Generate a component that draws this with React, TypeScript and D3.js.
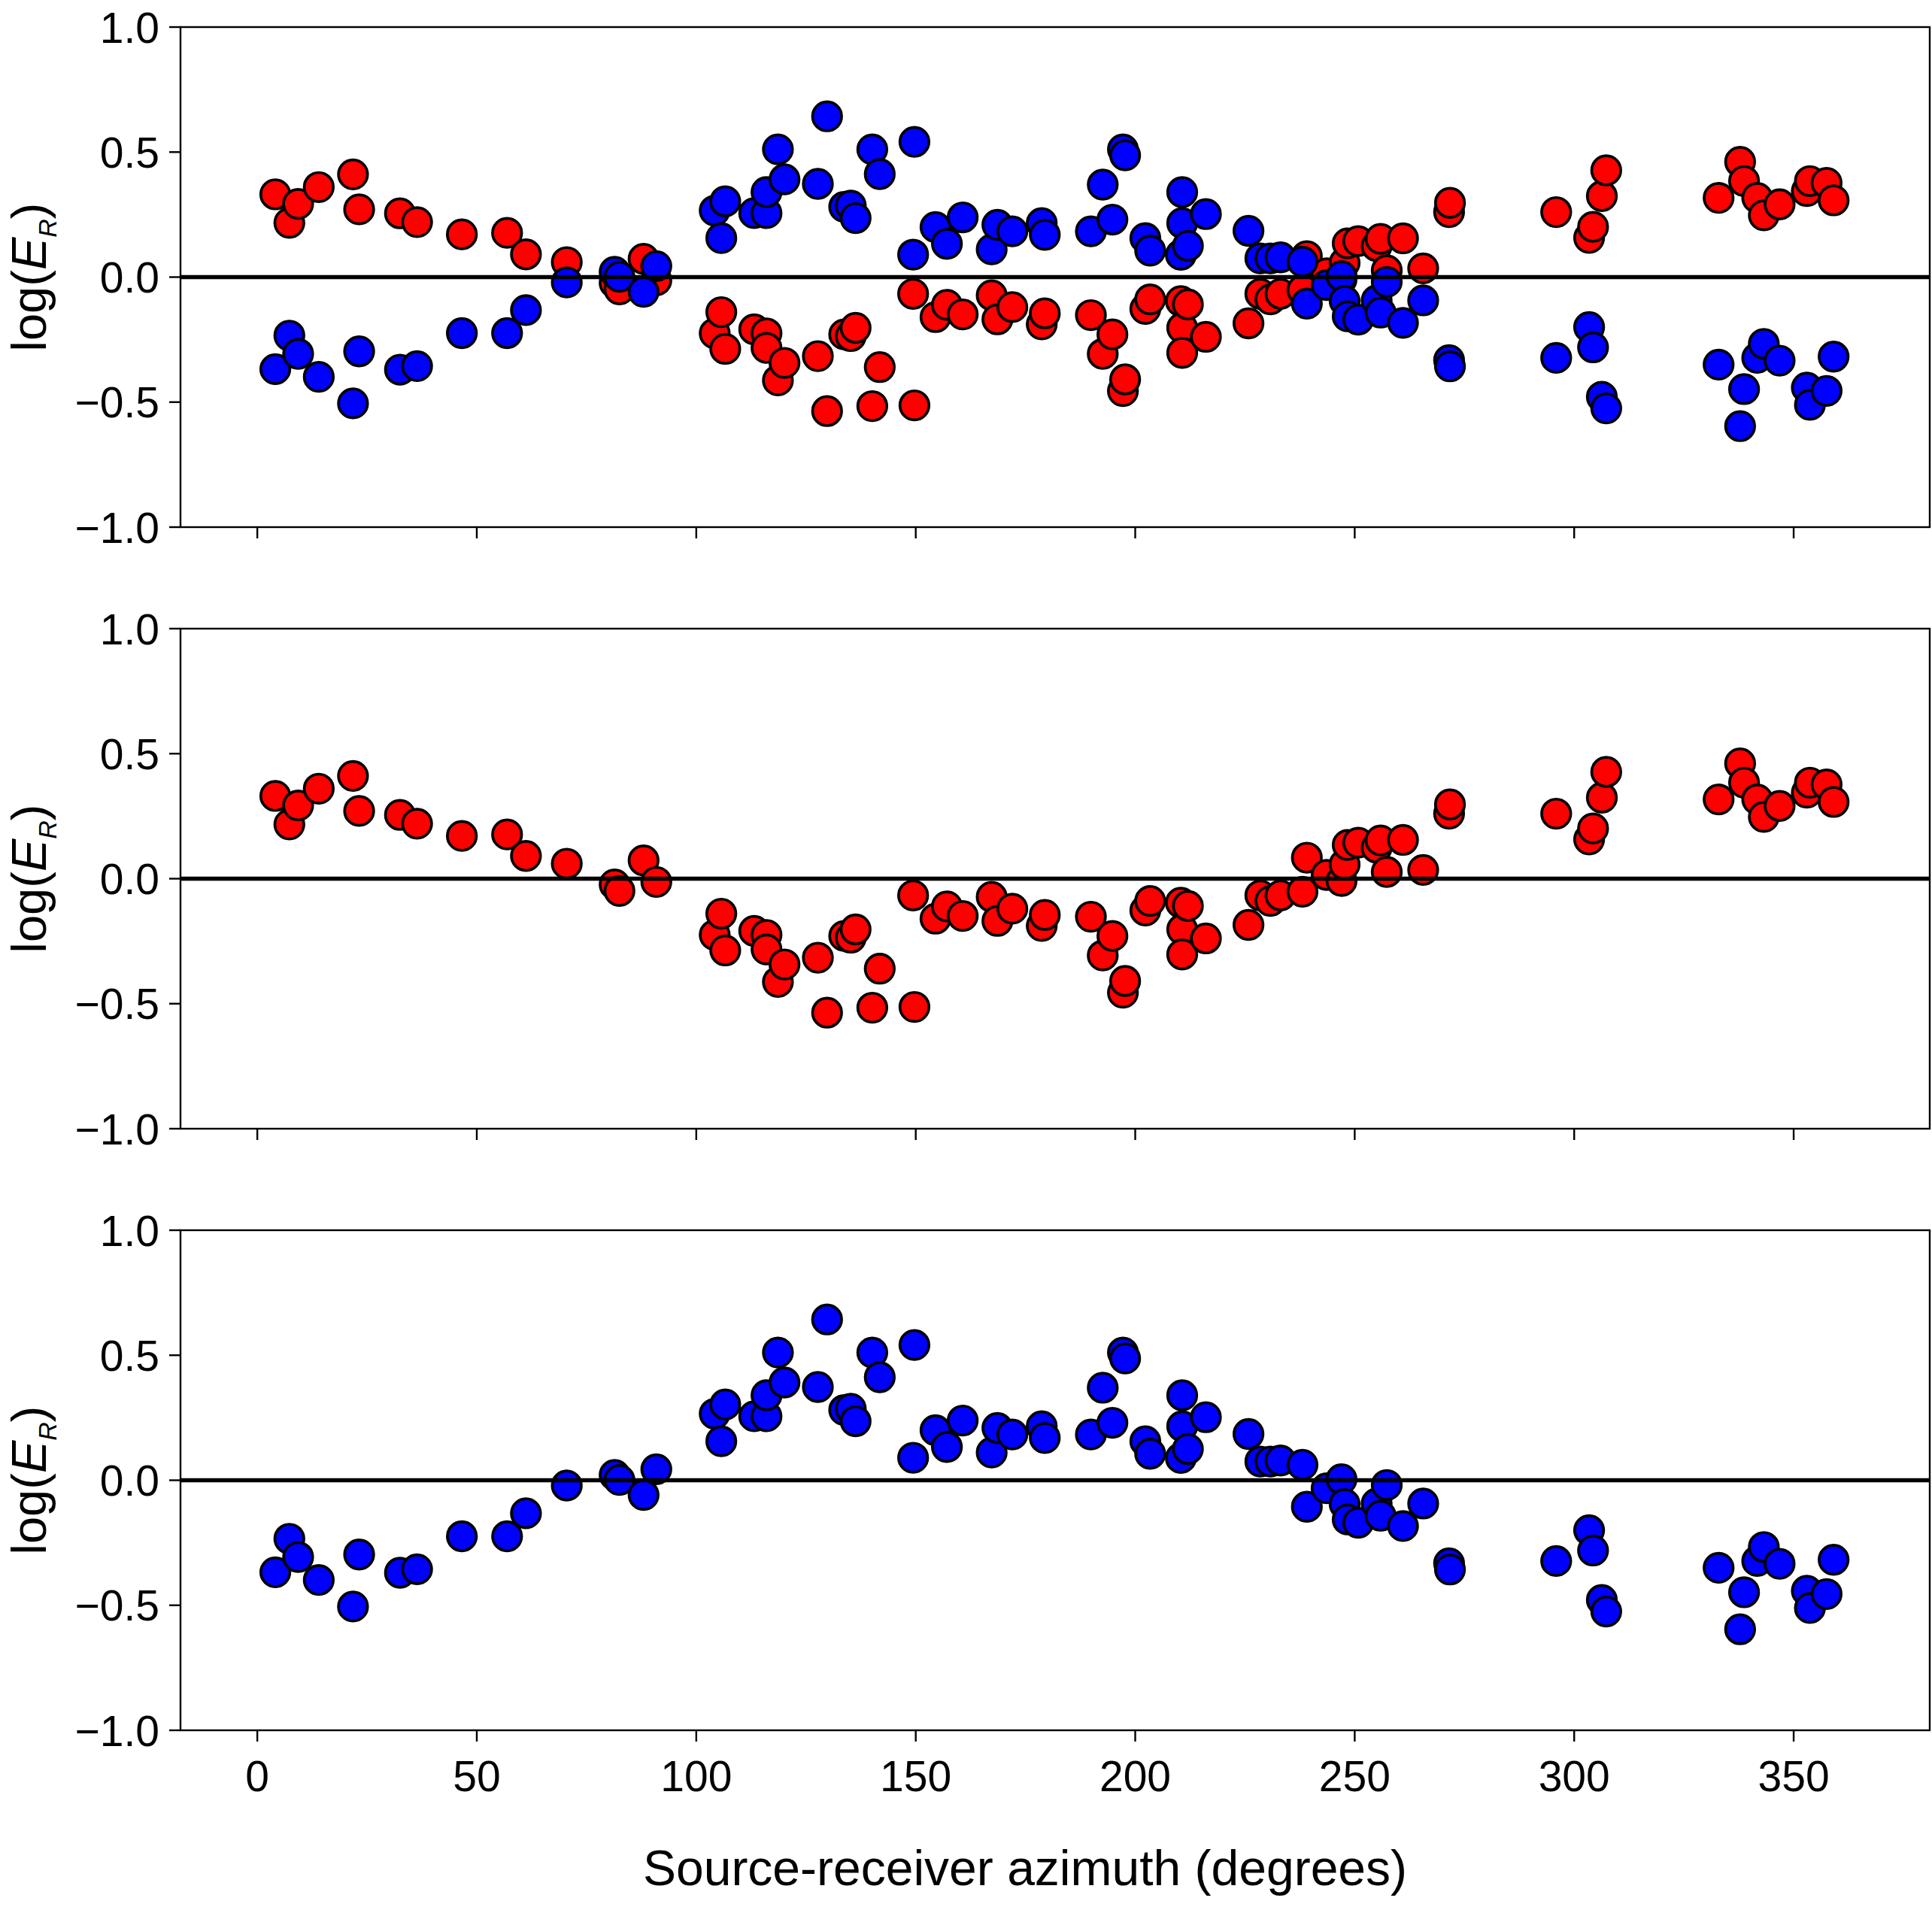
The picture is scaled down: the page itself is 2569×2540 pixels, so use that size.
import React from "react";
import * as d3 from "d3";

// Source-receiver azimuth of each station (degrees)
const azimuth = [
  4.1, 7.3, 9.3, 14.0, 21.8, 23.2, 32.5, 36.4, 46.6, 56.9,
  61.2, 70.5, 81.4, 82.5, 88.0, 90.9, 104.2, 105.7, 106.6, 113.2,
  116.0, 116.0, 118.6, 120.1, 127.7, 129.8, 133.7, 135.2, 136.3, 140.1,
  141.8, 149.4, 149.7, 154.5, 157.1, 160.7, 167.3, 168.6, 172.0, 178.7,
  179.4, 189.9, 192.6, 194.8, 197.2, 197.7, 202.3, 203.4, 210.4, 210.7,
  210.7, 212.0, 216.1, 225.8, 228.5, 230.8, 233.1, 238.1, 239.1, 243.6,
  247.0, 247.7, 248.4, 250.8, 255.0, 255.9, 257.3, 261.0, 265.6, 271.5,
  271.7, 295.9, 303.4, 304.3, 306.3, 307.3, 332.9, 337.8, 338.7, 341.7,
  343.2, 346.8, 353.0, 353.7, 357.5, 359.1,
];

// log(E_R), red series
const logERRed = [
  0.331, 0.217, 0.293, 0.36, 0.411, 0.271, 0.255, 0.22, 0.171, 0.177,
  0.091, 0.06, -0.023, -0.049, 0.073, -0.013, -0.225, -0.14, -0.287, -0.209,
  -0.225, -0.283, -0.413, -0.343, -0.316, -0.536, -0.229, -0.236, -0.203, -0.516,
  -0.36, -0.067, -0.513, -0.16, -0.111, -0.149, -0.073, -0.169, -0.12, -0.189,
  -0.145, -0.152, -0.307, -0.229, -0.456, -0.409, -0.127, -0.089, -0.096, -0.203,
  -0.303, -0.109, -0.239, -0.185, -0.067, -0.089, -0.067, -0.052, 0.084, 0.015,
  -0.009, 0.057, 0.135, 0.144, 0.124, 0.153, 0.027, 0.155, 0.035, 0.26,
  0.297, 0.26, 0.157, 0.201, 0.324, 0.427, 0.317, 0.461, 0.384, 0.317,
  0.247, 0.291, 0.344, 0.384, 0.377, 0.307,
];

// log(E_R), blue series
const logERBlue = [
  -0.368, -0.234, -0.307, -0.399, -0.505, -0.297, -0.37, -0.356, -0.224, -0.224,
  -0.132, -0.021, 0.021, 0.001, -0.059, 0.044, 0.266, 0.156, 0.303, 0.256,
  0.256, 0.34, 0.511, 0.391, 0.373, 0.643, 0.281, 0.286, 0.236, 0.511,
  0.412, 0.09, 0.541, 0.2, 0.133, 0.239, 0.111, 0.209, 0.183, 0.216,
  0.169, 0.183, 0.37, 0.23, 0.511, 0.487, 0.156, 0.106, 0.089, 0.216,
  0.34, 0.125, 0.252, 0.185, 0.075, 0.075, 0.079, 0.062, -0.106, -0.032,
  0.004, -0.095, -0.157, -0.17, -0.093, -0.142, -0.019, -0.183, -0.093, -0.332,
  -0.357, -0.323, -0.2, -0.281, -0.479, -0.525, -0.35, -0.596, -0.448, -0.323,
  -0.267, -0.334, -0.442, -0.511, -0.455, -0.318,
];

const xTicks = [0, 50, 100, 150, 200, 250, 300, 350];
const yTicks = [-1, -0.5, 0, 0.5, 1];
const xDomain: [number, number] = [-17.5, 381];
const yDomain: [number, number] = [-1, 1];

const W = 2569;
const H = 2540;
const LEFT = 240;
const RIGHT = 2566;
const PANEL_TOPS = [36, 836, 1636];
const PANEL_H = 665;
const FONT = "'Liberation Sans', Arial, Helvetica, sans-serif";
const TICK_FS = 57;
const LABEL_FS = 65;
const R = 19.3;

const fmtY = (v: number) => {
  const s = Math.abs(v).toFixed(1);
  return v < 0 ? "\u2212" + s : s;
};

type Series = { values: number[]; color: string };

const redSeries: Series = { values: logERRed, color: "#ff0000" };
const blueSeries: Series = { values: logERBlue, color: "#0000ff" };

const panels: { series: Series[]; showX: boolean }[] = [
  { series: [redSeries, blueSeries], showX: false },
  { series: [redSeries], showX: false },
  { series: [blueSeries], showX: true },
];

function Panel({ top, series, showX }: { top: number; series: Series[]; showX: boolean }) {
  const x = d3.scaleLinear().domain(xDomain).range([LEFT, RIGHT]);
  const y = d3.scaleLinear().domain(yDomain).range([top + PANEL_H, top]);
  const bottom = top + PANEL_H;
  const midY = top + PANEL_H / 2;
  return (
    <g>
      <defs>
        <clipPath id={`clip-${top}`}>
          <rect x={LEFT} y={top} width={RIGHT - LEFT} height={PANEL_H} />
        </clipPath>
      </defs>
      <g clipPath={`url(#clip-${top})`}>
        {series.map((s, si) => (
          <g key={si}>
            {azimuth.map((az, i) => (
              <circle
                key={i}
                cx={x(az)}
                cy={y(s.values[i])}
                r={R}
                fill={s.color}
                stroke="#000"
                strokeWidth={3.7}
              />
            ))}
          </g>
        ))}
        <line x1={LEFT} x2={RIGHT} y1={y(0)} y2={y(0)} stroke="#000" strokeWidth={5.5} />
      </g>
      <rect
        x={LEFT}
        y={top}
        width={RIGHT - LEFT}
        height={PANEL_H}
        fill="none"
        stroke="#000"
        strokeWidth={2.4}
      />
      {yTicks.map((t) => (
        <g key={t}>
          <line x1={LEFT - 15} x2={LEFT} y1={y(t)} y2={y(t)} stroke="#000" strokeWidth={2.4} />
          <text
            x={LEFT - 28}
            y={y(t) + 20.5}
            textAnchor="end"
            fontFamily={FONT}
            fontSize={TICK_FS}
            fill="#000"
          >
            {fmtY(t)}
          </text>
        </g>
      ))}
      {xTicks.map((t) => (
        <g key={t}>
          <line x1={x(t)} x2={x(t)} y1={bottom} y2={bottom + 15} stroke="#000" strokeWidth={2.4} />
          {showX && (
            <text
              x={x(t)}
              y={bottom + 81}
              textAnchor="middle"
              fontFamily={FONT}
              fontSize={TICK_FS}
              fill="#000"
            >
              {t}
            </text>
          )}
        </g>
      ))}
      <text
        transform={`translate(61, ${midY}) rotate(-90)`}
        textAnchor="middle"
        fontFamily={FONT}
        fontSize={LABEL_FS}
        fill="#000"
      >
        log(
        <tspan fontStyle="italic">E</tspan>
        <tspan fontStyle="italic" fontSize={34} dy={14}>
          R
        </tspan>
        <tspan dy={-14}>)</tspan>
      </text>
    </g>
  );
}

export default function App() {
  return (
    <svg
      width={W}
      height={H}
      viewBox={`0 0 ${W} ${H}`}
      style={{ position: "absolute", left: 0, top: 0, background: "#fff" }}
    >
      <rect x={0} y={0} width={W} height={H} fill="#fff" />
      {panels.map((p, i) => (
        <Panel key={i} top={PANEL_TOPS[i]} series={p.series} showX={p.showX} />
      ))}
      <text
        x={1363}
        y={2507}
        textAnchor="middle"
        fontFamily={FONT}
        fontSize={LABEL_FS + 1}
        fill="#000"
      >
        Source-receiver azimuth (degrees)
      </text>
    </svg>
  );
}
